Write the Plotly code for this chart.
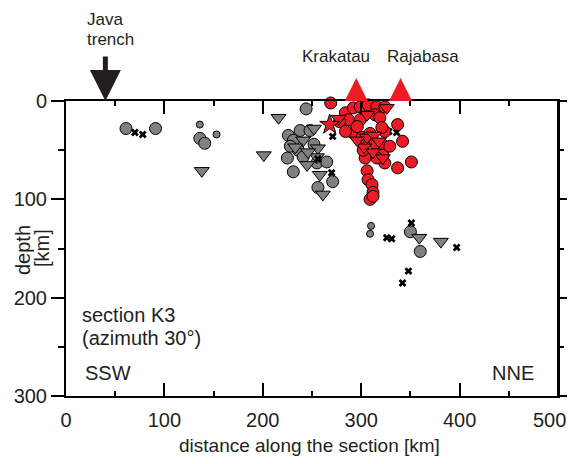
import plotly.graph_objects as go

# ---------------- data (distance along section [km], depth [km]) ----------------
gray_circle_km = [61, 91, 136, 141, 244, 226, 231, 238, 248, 225, 231, 255, 265, 271, 256, 236, 241, 350, 360, 228, 252]
gray_circle_depth = [28, 28, 38, 43, 8, 35, 40, 30, 30, 58, 72, 63, 62, 82, 88, 50, 57, 133, 153, 46, 44]

gray_small_km = [136, 153, 310, 309]
gray_small_depth = [24, 34, 127, 135]

gray_tri_km = [138, 201, 216, 241, 233, 256, 255, 245, 258, 261, 252, 359, 381, 246]
gray_tri_depth = [71, 55, 17, 40, 47, 48, 57, 65, 75, 95, 28, 139, 143, 52]

cross_km = [70, 78, 256, 270, 271, 336, 328, 326, 331, 351, 397, 348, 342]
cross_depth = [32, 34, 59, 73, 36, 32, 31, 139, 140, 124, 149, 173, 185]

red_circle_km = [269, 284, 287, 278, 292, 299, 307, 316, 314, 324, 319, 299, 291, 284, 296, 324, 337,
                 342, 351, 337, 321, 322, 324, 316, 304, 302, 306, 307, 311, 312, 309, 312, 301, 309,
                 314, 329, 321]
red_circle_depth = [2, 12, 19, 21, 7, 6, 4, 6, 14, 6, 17, 19, 32, 31, 26, 31, 24,
                    41, 62, 68, 44, 55, 63, 58, 58, 50, 71, 80, 85, 93, 100, 97, 37, 33,
                    43, 46, 27]

red_tri_km = [277, 306, 326, 306, 313, 303, 312, 322, 296, 318]
red_tri_depth = [18, 14, 7, 37, 35, 47, 52, 58, 40, 41]

red_star_km = [268]
red_star_depth = [24]

volcano_names = ["Krakatau", "Rajabasa"]
volcano_km = [295, 340]
trench_km = 40

x_ticks = [0, 100, 200, 300, 400, 500]
y_ticks = [0, 100, 200, 300]

# ---------------- style / geometry ----------------
GRAY = "#808080"
RED = "#ED1C24"
TXT = "#231f20"
FONT = "Liberation Sans, Arial, sans-serif"

OFF = 8                   # page body margin
W, H = 575 - 2 * OFF, 464 - 2 * OFF   # keep the page free of scrollbars
L = 66 - OFF
R = W - (558 - OFF)
PLOT_TOP = 101 - OFF      # pixel row of depth 0
PLOT_BOT = 396 - OFF      # pixel row of depth 300
B = H - PLOT_BOT
EXTRA = 25                # room above the section for the volcano symbols
T = PLOT_TOP - EXTRA
pw = W - L - R
ph = PLOT_BOT - PLOT_TOP
paper_h = ph + EXTRA
D = ph / paper_h
km_per_px_y = 300 / ph


def px(xpix):
    return (xpix - OFF - L) / pw


def py(ypix):
    return (PLOT_BOT - (ypix - OFF)) / paper_h


fig = go.Figure()


def add(xs, ys, symbol, size, color, lw=1, yaxis="y"):
    fig.add_trace(go.Scatter(
        x=xs, y=ys, mode="markers", cliponaxis=False, showlegend=False, hoverinfo="skip",
        yaxis=yaxis,
        marker=dict(symbol=symbol, size=size, color=color,
                    line=dict(color="black", width=lw))))


add(gray_circle_km, gray_circle_depth, "circle", 12, GRAY)
add(gray_small_km, gray_small_depth, "circle", 7, GRAY)
add(gray_tri_km, gray_tri_depth, "triangle-down", 13, GRAY)
add(cross_km, cross_depth, "x", 7, "black", 0)
add(red_circle_km, red_circle_depth, "circle", 12, RED)
add(red_tri_km, red_tri_depth, "triangle-down", 13, RED)
add(red_star_km, red_star_depth, "star", 15, RED)

# volcanoes: apex-anchored symbol sitting on the surface line (own axis with room above)
vsize = 23
add(volcano_km, [-vsize * km_per_px_y] * len(volcano_km), "arrow-up", vsize, RED, 0, yaxis="y3")

# invisible anchor so the right-hand depth axis is drawn
fig.add_trace(go.Scatter(x=[0], y=[0], yaxis="y2", mode="markers", showlegend=False,
                         hoverinfo="skip", marker=dict(opacity=0, size=1)))

NB = "\u00a0"
x_ticktext = [str(v) for v in x_ticks]
x_ticktext[-1] = x_ticktext[-1] + NB * 3   # keep the last label inside the page

y_common = dict(range=[300, 0], domain=[0, D], showgrid=False, zeroline=False, showline=True,
                linecolor="black", linewidth=2, tickcolor="black", tickwidth=2,
                automargin=False, anchor="x", ticks="outside", tickvals=y_ticks)

fig.update_layout(
    width=W, height=H,
    margin=dict(l=L, r=R, t=T, b=B, pad=0),
    paper_bgcolor="white", plot_bgcolor="rgba(0,0,0,0)",
    font=dict(family=FONT, color=TXT, size=20),
    xaxis=dict(range=[0, 500], showgrid=False, zeroline=False, showline=True, mirror="ticks",
               linecolor="black", linewidth=2, tickcolor="black", tickwidth=2,
               automargin=False, anchor="y",
               ticks="inside", ticklen=13, ticklabelstandoff=5, ticklabeloverflow="allow",
               tickvals=x_ticks, ticktext=x_ticktext,
               tickfont=dict(size=20, color=TXT),
               minor=dict(ticks="inside", ticklen=5, tickwidth=2, tickcolor="black", dtick=50, tick0=0)),
    yaxis=dict(**y_common, ticklen=13, ticktext=[str(v) for v in y_ticks],
               tickfont=dict(size=20, color=TXT),
               minor=dict(ticks="outside", ticklen=6, tickwidth=2, tickcolor="black", dtick=50, tick0=0)),
    yaxis2=dict(**y_common, overlaying="y", side="right", ticklen=12, showticklabels=False,
                minor=dict(ticks="outside", ticklen=4, tickwidth=2, tickcolor="black", dtick=50, tick0=0)),
    yaxis3=dict(range=[300, -300 * EXTRA / ph], domain=[0, 1], anchor="x", visible=False,
                automargin=False),
)

# right-hand frame edge of the section (domain-relative, no data coordinates)
fig.add_shape(type="line", xref="x domain", yref="y domain", x0=1, x1=1, y0=0, y1=1,
              line=dict(color="black", width=2))

ann = []


def text(t, xpix, ypix, size, xanchor="left", angle=0):
    ann.append(dict(text=t, x=px(xpix), y=py(ypix), xref="paper", yref="paper",
                    xanchor=xanchor, yanchor="middle", showarrow=False, textangle=angle,
                    font=dict(size=size, color=TXT, family=FONT)))


text("Java", 85, 20, 17)
text("trench", 85, 40, 17)
text(volcano_names[0], 336, 56.5, 17, "center")
text(volcano_names[1], 423, 56.5, 17, "center")
text("section K3", 80, 315, 20)
text("(azimuth 30°)", 80, 338, 20)
text("SSW", 83, 373, 20)
text("NNE", 536, 373, 20, "right")
text("depth", 23, 250, 20, "center", -90)
text("[km]", 42, 248, 20, "center", -90)
text("distance along the section [km]", 309, 445, 19, "center")

# trench arrow
ann.append(dict(x=trench_km, y=0, xref="x", yref="y", ax=0, ay=-46, text="",
                showarrow=True, arrowhead=2, arrowsize=1.24, arrowwidth=5, arrowcolor=TXT,
                standoff=0))

fig.update_layout(annotations=ann)
fig.write_html("out.html")
